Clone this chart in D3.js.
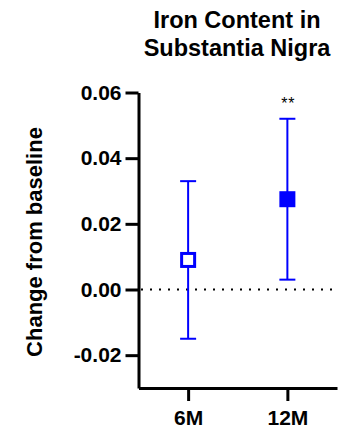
<html>
<head>
<script src="https://cdn.jsdelivr.net/npm/d3@7"></script>
<style>
  body { margin: 0; background: #fff; }
  text { font-family: "Liberation Sans", Arial, sans-serif; }
</style>
</head>
<body>
<svg id="chart"></svg>
<script>
const WIDTH = 339
const HEIGHT = 427

// data
const groups = ["6M", "12M"]
const means = [0.009, 0.0275]
const upper = [0.033, 0.052]
const lower = [-0.015, 0.003]
const stars = ["", "**"]
const yTicks = [-0.02, 0, 0.02, 0.04, 0.06]

const BLUE = "#0000ff"

const svg = d3.select("#chart")
    .attr("width", WIDTH)
    .attr("height", HEIGHT)

const yScale = d3.scaleLinear()
    .domain([-0.03, 0.06])
    .range([388, 92.5])

const xScale = d3.scalePoint()
    .domain(groups)
    .range([138.5, 337])
    .padding(0.5)

// title
const title = svg.append("text")
    .attr("text-anchor", "middle")
    .attr("font-weight", "bold")
    .attr("font-size", 23.5)
title.append("tspan").attr("x", 237).attr("y", 28).text("Iron Content in")
title.append("tspan").attr("x", 237).attr("y", 56).text("Substantia Nigra")

// zero line
svg.append("line")
    .attr("x1", 141).attr("x2", WIDTH)
    .attr("y1", yScale(0)).attr("y2", yScale(0))
    .attr("stroke", "black")
    .attr("stroke-width", 2)
    .style("stroke-dasharray", "2,7")

// y axis
const yAxis = svg.append("g")
    .attr("transform", "translate(138.5,0)")
    .call(d3.axisLeft(yScale).tickValues(yTicks).tickFormat(d => d.toFixed(2)).tickSize(13).tickSizeOuter(0).tickPadding(4))
yAxis.select(".domain").attr("stroke-width", 3)
yAxis.selectAll(".tick line").attr("stroke-width", 3)
yAxis.selectAll(".tick text")
    .attr("font-size", 21).attr("font-weight", "bold").attr("font-family", "Liberation Sans, Arial, sans-serif")

// x axis
const xAxis = svg.append("g")
    .attr("transform", `translate(0,${yScale(-0.03)})`)
    .call(d3.axisBottom(xScale).tickSize(13).tickSizeOuter(0).tickPadding(9))
xAxis.select(".domain").attr("stroke-width", 3)
xAxis.selectAll(".tick line").attr("stroke-width", 3)
xAxis.selectAll(".tick text")
    .attr("font-size", 21).attr("font-weight", "bold").attr("font-family", "Liberation Sans, Arial, sans-serif")

// y label
svg.append("text")
    .attr("transform", "translate(42,242) rotate(-90)")
    .attr("text-anchor", "middle")
    .attr("font-size", 22)
    .attr("font-weight", "bold")
    .text("Change from baseline")

// error bars
groups.forEach((g, i) => {
    const x = xScale(g)
    svg.append("line")
        .attr("x1", x).attr("x2", x)
        .attr("y1", yScale(upper[i])).attr("y2", yScale(lower[i]))
        .attr("stroke", BLUE).attr("stroke-width", 2)
    ;[upper[i], lower[i]].forEach(v => {
        svg.append("line")
            .attr("x1", x - 8).attr("x2", x + 8)
            .attr("y1", yScale(v)).attr("y2", yScale(v))
            .attr("stroke", BLUE).attr("stroke-width", 2)
    })
    if (i == 0) {
        svg.append("rect")
            .attr("x", x - 6.5).attr("y", yScale(means[i]) - 6.5)
            .attr("width", 13).attr("height", 13)
            .attr("fill", "white").attr("stroke", BLUE).attr("stroke-width", 3)
    } else {
        svg.append("rect")
            .attr("x", x - 8).attr("y", yScale(means[i]) - 8)
            .attr("width", 16).attr("height", 16)
            .attr("fill", BLUE)
    }
    if (stars[i]) {
        svg.append("text")
            .attr("x", x + 1).attr("y", yScale(upper[i]) - 10)
            .attr("text-anchor", "middle")
            .attr("font-size", 16)
            .attr("letter-spacing", 1)
            .text(stars[i])
    }
})
</script>
</body>
</html>
